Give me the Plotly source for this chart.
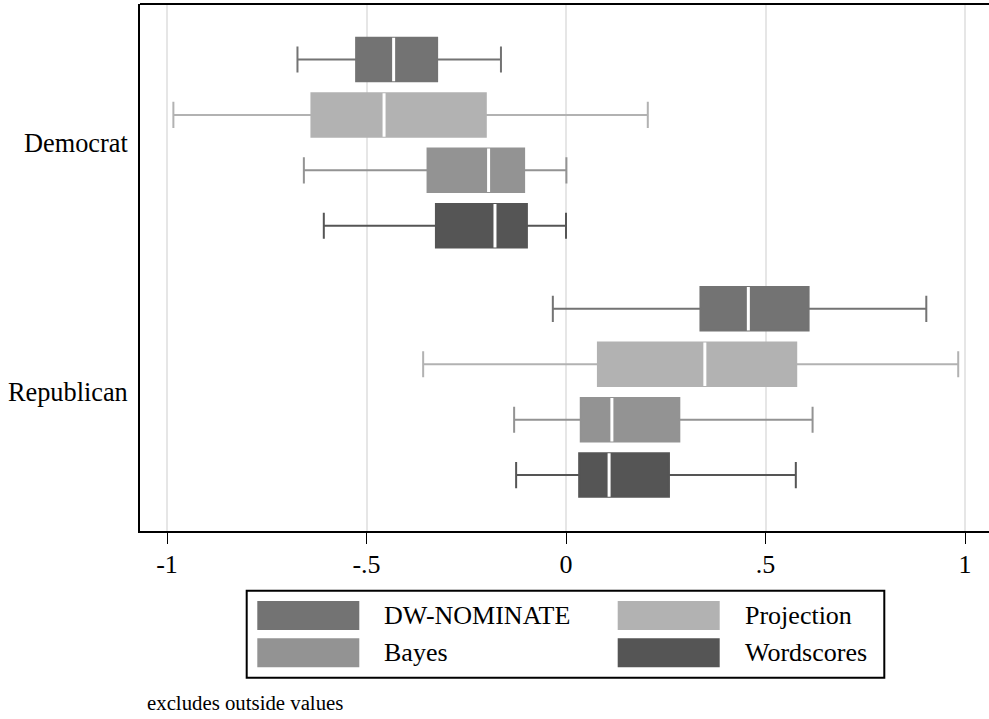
import plotly.graph_objects as go

# ---------------- data ----------------
parties = ["Democrat", "Republican"]
series = ["DW-NOMINATE", "Projection", "Bayes", "Wordscores"]
colors = ["#737373", "#b2b2b2", "#939393", "#555555"]

# each row: one series, values for [Democrat, Republican]
lower_whisker = [[-0.673, -0.033], [-0.984, -0.358], [-0.657, -0.130], [-0.607, -0.125]]
q1_values     = [[-0.526,  0.337], [-0.638,  0.080], [-0.347,  0.037], [-0.326,  0.033]]
median_values = [[-0.432,  0.457], [-0.456,  0.348], [-0.194,  0.115], [-0.178,  0.108]]
q3_values     = [[-0.323,  0.608], [-0.201,  0.577], [-0.105,  0.284], [-0.098,  0.258]]
upper_whisker = [[-0.163,  0.903], [ 0.205,  0.983], [ 0.001,  0.618], [ 0.000,  0.576]]

tick_vals = [-1, -0.5, 0, 0.5, 1]
tick_text = ["-1", "-.5", "0", ".5", "1"]
note_text = "excludes outside values"

# ---------------- layout geometry (pixels) ----------------
W, H = 989, 719
PL, PR, PT, PB = 140, 989, 4, 531  # plot area edges
FONT = "Liberation Serif"


def px_x(px):
    return (px - PL) / (PR - PL)


def px_y(py):
    return (PB - py) / (PB - PT)


fig = go.Figure()

for i, name in enumerate(series):
    fig.add_trace(go.Box(
        y=parties,
        q1=q1_values[i], median=median_values[i], q3=q3_values[i],
        lowerfence=lower_whisker[i], upperfence=upper_whisker[i],
        orientation="h", name=name,
        fillcolor=colors[i],
        line=dict(color=colors[i], width=2),
        whiskerwidth=0.6,
        boxpoints=False,
        offsetgroup=str(i),
        showlegend=False,
        hoverinfo="skip",
    ))
    # white median marker drawn as a degenerate box at the median
    fig.add_trace(go.Box(
        y=parties,
        q1=median_values[i], median=median_values[i], q3=median_values[i],
        lowerfence=median_values[i], upperfence=median_values[i],
        orientation="h", name=name + " median",
        fillcolor="white",
        line=dict(color="white", width=3),
        whiskerwidth=0,
        boxpoints=False,
        offsetgroup=str(i),
        showlegend=False,
        hoverinfo="skip",
    ))

shapes = []
annotations = []

# top border of the plot region (right side runs off the image)
shapes.append(dict(type="line", xref="paper", yref="paper",
                   x0=0, x1=1.05, y0=1, y1=1,
                   line=dict(color="black", width=2)))

# manual legend
shapes.append(dict(type="rect", xref="paper", yref="paper",
                   x0=px_x(246.7), x1=px_x(884.3), y0=px_y(677.7), y1=px_y(590.7),
                   line=dict(color="black", width=2), fillcolor="white"))
col_sw = [257.3, 617.7]
col_txt = [381.7, 742.7]
row_top = [601, 638.3]
sw_w, sw_h = 102, 29
for i, name in enumerate(series):
    c, r = i % 2, i // 2
    x0 = col_sw[c]
    y0 = row_top[r]
    shapes.append(dict(type="rect", xref="paper", yref="paper",
                       x0=px_x(x0), x1=px_x(x0 + sw_w),
                       y0=px_y(y0 + sw_h), y1=px_y(y0),
                       line=dict(width=0), fillcolor=colors[i]))
    annotations.append(dict(xref="paper", yref="paper",
                            x=px_x(col_txt[c]), y=px_y(y0 + sw_h / 2),
                            text=name, showarrow=False,
                            xanchor="left", yanchor="middle",
                            font=dict(family=FONT, size=26, color="black")))

annotations.append(dict(xref="paper", yref="paper",
                        x=px_x(145), y=px_y(702),
                        text=note_text, showarrow=False,
                        xanchor="left", yanchor="middle",
                        font=dict(family=FONT, size=20.8, color="black")))

fig.update_layout(
    width=W, height=H, autosize=False,
    margin=dict(l=PL, r=W - PR, t=PT, b=H - PB, pad=0),
    paper_bgcolor="white", plot_bgcolor="white",
    boxmode="group", boxgap=0.111, boxgroupgap=0.215,
    hovermode=False,
    font=dict(family=FONT, color="black"),
    shapes=shapes, annotations=annotations,
    xaxis=dict(
        range=[(PL - 566) / 399, (PR - 566) / 399],
        tickvals=tick_vals, ticktext=tick_text,
        showgrid=True, gridcolor="#e6e6e6", gridwidth=2,
        zeroline=False,
        showline=True, linecolor="black", linewidth=2,
        ticks="outside", ticklen=11, tickwidth=1, tickcolor="black",
        ticklabelstandoff=-2,
        tickfont=dict(family=FONT, size=26, color="black"),
        fixedrange=True,
    ),
    yaxis=dict(
        type="category", categoryorder="array", categoryarray=parties,
        range=[1.5576, -0.556],
        showgrid=False, zeroline=False,
        showline=True, linecolor="black", linewidth=2,
        ticks="", ticklabelstandoff=5,
        tickfont=dict(family=FONT, size=26.3, color="black"),
        fixedrange=True,
    ),
)

fig.write_html("out.html")
